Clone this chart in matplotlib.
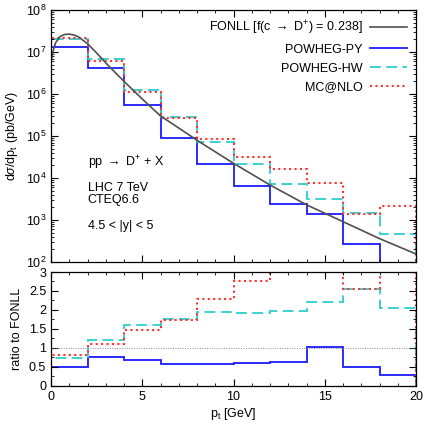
import numpy as np
import matplotlib
matplotlib.use("Agg")
import matplotlib.pyplot as plt
from matplotlib.ticker import MultipleLocator, LogLocator, FormatStrFormatter, NullFormatter

plt.rcParams['font.family'] = ['Liberation Sans', 'DejaVu Sans']
plt.rcParams['mathtext.fontset'] = 'custom'
plt.rcParams['mathtext.rm'] = 'Liberation Sans'
plt.rcParams['mathtext.it'] = 'Liberation Sans:italic'

# bin edges in pt [GeV]
edges = [0, 2, 4, 6, 8, 10, 12, 14, 16, 18, 20]

# FONLL curve
fonll_pt = [0.0, 0.1, 0.25, 0.5, 0.75, 1.0, 1.25, 1.5, 2.0, 2.5, 3.0, 3.5, 4.0,
            5.0, 6.0, 7.0, 8.0, 9.0, 10.0, 12.0, 14.0, 16.0, 18.0, 20.0]
fonll_val = [5.6e6, 1.0e7, 1.66e7, 2.34e7, 2.62e7, 2.66e7, 2.55e7, 2.3e7, 1.58e7,
             9.5e6, 5.5e6, 3.3e6, 2.0e6, 7.6e5, 3.0e5, 1.55e5, 7.9e4, 4.2e4,
             2.24e4, 6.8e3, 2.3e3, 910, 360, 155]

# histograms dsigma/dpt
powheg_py = [1.3e7, 4.2e6, 5.4e5, 9.1e4, 2.2e4, 6.4e3, 2.4e3, 1.39e3, 268, 65]
powheg_hw = [2.0e7, 6.9e6, 1.26e6, 2.8e5, 7.2e4, 2.1e4, 7.3e3, 3.1e3, 1.5e3, 460]
mcatnlo = [2.2e7, 6.2e6, 1.14e6, 2.7e5, 8.7e4, 3.1e4, 1.6e4, 7.5e3, 1.4e3, 2.1e3]

# ratios to FONLL
r_py = [0.49, 0.75, 0.69, 0.57, 0.58, 0.60, 0.64, 1.03, 0.49, 0.28]
r_hw = [0.73, 1.21, 1.60, 1.77, 1.95, 1.93, 1.97, 2.21, 2.56, 2.04]
r_mc = [0.82, 1.11, 1.46, 1.74, 2.28, 2.76, 4.0, 5.3, 2.54, 9.0]

c_fonll = '#505050'
c_py = '#1a1aff'
c_hw = '#2ccfcf'
c_mc = '#ff3030'
ls_hw = (0, (6, 3))
ls_mc = (0, (1, 1.6))

fig = plt.figure(figsize=(4.25, 4.26), dpi=100)
ax = fig.add_axes([0.12, 0.385, 0.859, 0.5915])
axr = fig.add_axes([0.12, 0.094, 0.859, 0.2675])

ax.plot(fonll_pt, fonll_val, color=c_fonll, lw=1.2, label=r'FONLL [f(c $\rightarrow$ D$^{+}$) = 0.238]')
ax.stairs(powheg_py, edges, baseline=1, color=c_py, lw=1.3, label='POWHEG-PY')
ax.stairs(powheg_hw, edges, baseline=1, color=c_hw, lw=1.3, ls=ls_hw, label='POWHEG-HW')
ax.stairs(mcatnlo, edges, baseline=1, color=c_mc, lw=1.5, ls=ls_mc, label='MC@NLO')

ax.set_yscale('log')
ax.set_xlim(0, 20)
ax.set_ylim(1e2, 1e8)
ax.set_ylabel(r'd$\sigma$/dp$_{\rm t}$ (pb/GeV)', fontsize=9)
ax.yaxis.set_major_locator(LogLocator(base=10, numticks=10))
ax.yaxis.set_minor_locator(LogLocator(base=10, subs=np.arange(2, 10), numticks=10))
ax.yaxis.set_minor_formatter(NullFormatter())
ax.xaxis.set_major_locator(MultipleLocator(5))
ax.xaxis.set_minor_locator(MultipleLocator(1))
ax.xaxis.set_major_formatter(NullFormatter())

leg = ax.legend(loc='upper right', frameon=False, markerfirst=False, fontsize=9,
                handlelength=3.0, labelspacing=0.55, borderaxespad=0.3,
                handletextpad=0.6)

ax.text(0.1, 0.38, r'pp $\rightarrow$ D$^{+}$ + X', transform=ax.transAxes, fontsize=9)
ax.text(0.1, 0.235, 'LHC 7 TeV\nCTEQ6.6', transform=ax.transAxes, fontsize=9, linespacing=1.0)
ax.text(0.1, 0.13, r'4.5 < |y| < 5', transform=ax.transAxes, fontsize=9)

axr.axhline(1.0, color='#888888', lw=0.7, ls=(0, (1, 1.5)))
axr.stairs(r_py, edges, baseline=0, color=c_py, lw=1.3)
axr.stairs(r_hw, edges, baseline=0, color=c_hw, lw=1.3, ls=ls_hw)
axr.stairs(r_mc, edges, baseline=0, color=c_mc, lw=1.5, ls=ls_mc)
axr.set_xlim(0, 20)
axr.set_ylim(0, 3)
axr.yaxis.set_major_locator(MultipleLocator(0.5))
axr.yaxis.set_minor_locator(MultipleLocator(0.25))
axr.yaxis.set_major_formatter(FormatStrFormatter('%g'))
axr.xaxis.set_major_locator(MultipleLocator(5))
axr.xaxis.set_minor_locator(MultipleLocator(1))
axr.set_xlabel(r'p$_{\rm t}$ [GeV]', fontsize=9, labelpad=2)
axr.set_ylabel('ratio to FONLL', fontsize=9)

for a in (ax, axr):
    a.tick_params(which='both', direction='in', top=True, right=True, labelsize=9)
    a.tick_params(which='major', length=5)
    a.tick_params(which='minor', length=2.5)
    for s in a.spines.values():
        s.set_linewidth(0.9)

fig.align_ylabels([ax, axr])
fig.savefig('out.png', dpi=100)
